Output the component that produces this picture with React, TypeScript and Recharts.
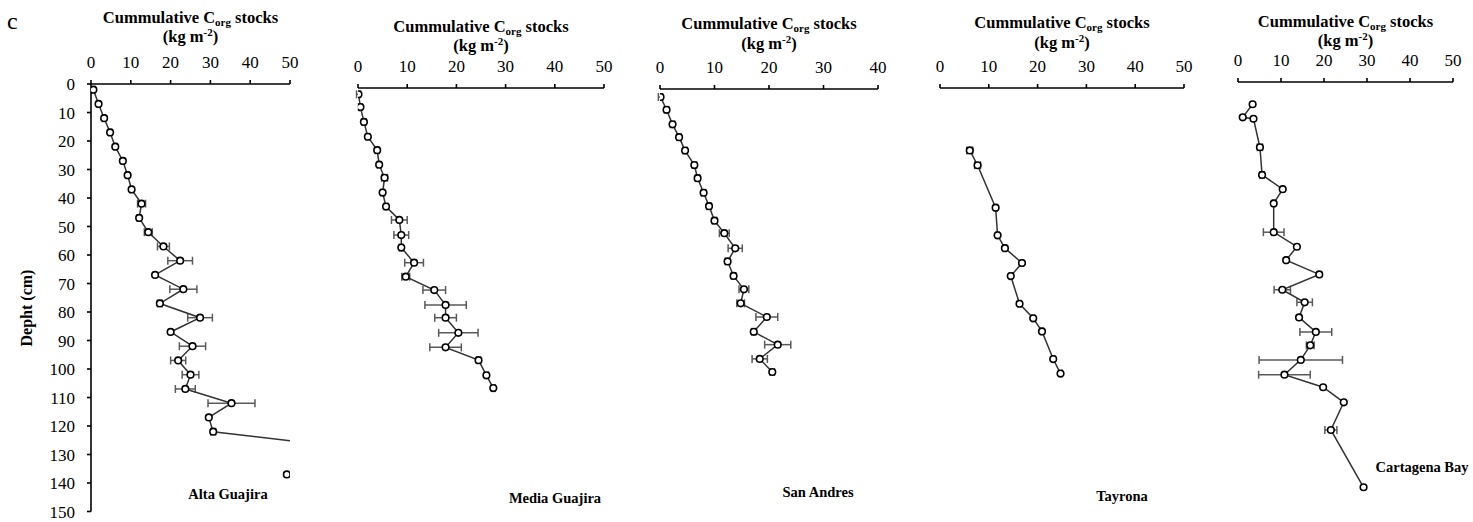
import React from "react";
import { ScatterChart, Scatter, XAxis, YAxis, ErrorBar } from "recharts";

// depth (cm) / cumulative Corg stock (kg m-2) / error
const altaDepth = [2, 7, 12, 17, 22, 27, 32, 37, 42, 47, 52, 57, 62, 67, 72, 77, 82, 87, 92, 97, 102, 107, 112, 117, 122, 127, 137];
const altaStock = [0.6, 1.9, 3.3, 4.8, 6.1, 8.0, 9.2, 10.2, 12.7, 12.1, 14.4, 18.2, 22.4, 16.1, 23.2, 17.3, 27.4, 20.0, 25.5, 21.9, 25.0, 23.7, 35.3, 29.6, 30.7, 61.0, 49.2];
const altaErr = [0.4, 0.4, 0.4, 0.4, 0.4, 0.4, 0.4, 0.4, 1.0, 0.5, 1.0, 1.5, 3.1, 0, 3.4, 0.6, 3.1, 0, 3.3, 1.9, 2.1, 2.5, 5.9, 0, 0.6, 0, 0];

const mediaDepth = [2.2, 6.7, 11.9, 17.1, 21.8, 26.9, 31.5, 36.7, 41.6, 46.3, 51.6, 56.0, 61.3, 66.2, 70.9, 76.1, 80.6, 85.9, 91.0, 95.5, 100.8, 105.3];
const mediaStock = [0.1, 0.5, 1.2, 2.0, 3.9, 4.3, 5.4, 5.0, 5.7, 8.4, 8.8, 8.8, 11.4, 9.7, 15.5, 17.8, 17.8, 20.4, 17.8, 24.5, 26.1, 27.5];
const mediaErr = [0.4, 0.4, 0.4, 0.4, 0.4, 0.4, 0.6, 0.4, 0.4, 1.6, 1.5, 0.4, 1.9, 0.8, 2.3, 4.2, 2.2, 4.0, 3.2, 0.4, 0.4, 0.4];

const sanDepth = [2.8, 7.3, 12.4, 16.9, 21.6, 26.7, 31.3, 36.4, 41.1, 46.2, 50.6, 55.9, 60.5, 65.6, 70.3, 75.2, 80.0, 85.2, 89.7, 94.7, 99.3];
const sanStock = [0.1, 1.2, 2.3, 3.5, 4.6, 6.3, 6.9, 8.0, 9.0, 10.0, 11.8, 13.8, 12.4, 13.5, 15.4, 14.8, 19.6, 17.2, 21.6, 18.3, 20.6];
const sanErr = [0.4, 0.4, 0.4, 0.4, 0.4, 0.4, 0.4, 0.4, 0.4, 0.4, 0.9, 1.3, 0.4, 0.4, 0.9, 0.7, 2.0, 0.4, 2.4, 1.4, 0.4];

const tayDepth = [21.9, 27.1, 42.0, 51.7, 56.2, 61.4, 66.0, 75.7, 80.8, 85.4, 95.1, 100.2];
const tayStock = [6.1, 7.7, 11.4, 11.8, 13.3, 16.8, 14.5, 16.3, 19.1, 20.9, 23.2, 24.7];
const tayErr = [0.6, 0.6, 0.3, 0.3, 0.3, 0.3, 0.3, 0.3, 0.3, 0.3, 0.3, 0.3];

const cartDepth = [7.8, 12.4, 12.9, 22.9, 32.6, 37.6, 42.6, 52.7, 57.8, 62.5, 67.5, 72.9, 77.3, 82.6, 87.7, 92.4, 97.5, 102.7, 107.1, 112.4, 122.1, 142.2];
const cartStock = [3.4, 1.1, 3.6, 5.1, 5.6, 10.4, 8.3, 8.3, 13.7, 11.2, 18.9, 10.3, 15.5, 14.2, 18.1, 16.8, 14.6, 10.8, 19.8, 24.6, 21.6, 29.2];
const cartErr = [0, 0, 0, 0.6, 0.5, 0, 0.3, 2.4, 0, 0.3, 0, 1.9, 1.8, 0, 3.7, 0.9, 9.7, 6.0, 0, 0, 1.4, 0];

const ticks50 = [0, 10, 20, 30, 40, 50];
const ticks40 = [0, 10, 20, 30, 40];
const depthTicks = [0, 10, 20, 30, 40, 50, 60, 70, 80, 90, 100, 110, 120, 130, 140, 150];

const FONT = "Liberation Serif, DejaVu Serif, Times New Roman, serif";
const PLOT_H = 427.5;
const X_AXIS_H = 30;
const BOTTOM = 10;

const zip = (d: number[], s: number[], e: number[]) =>
  d.map((depth, i) => ({ depth, stock: s[i], err: e[i] }));

const Dot = (props: any) => (
  <circle cx={props.cx} cy={props.cy} r={3.3} fill="#fff" stroke="#000" strokeWidth={1.6} />
);

type PanelProps = {
  data: { depth: number; stock: number; err: number }[];
  x0: number;
  x1: number;
  axisY: number;
  ticks: number[];
  showY?: boolean;
};

const Panel = ({ data, x0, x1, axisY, ticks, showY }: PanelProps) => {
  const yW = showY ? 50 : 0;
  const mL = 12;
  const mR = 12;
  const max = ticks[ticks.length - 1];
  return (
    <div style={{ position: "absolute", left: x0 - yW - mL, top: axisY - X_AXIS_H }}>
      <ScatterChart
        width={mL + yW + (x1 - x0) + mR}
        height={X_AXIS_H + PLOT_H + BOTTOM}
        margin={{ top: 0, right: mR, left: mL, bottom: BOTTOM }}
        style={{ fontFamily: FONT }}
      >
        <XAxis
          type="number"
          dataKey="stock"
          orientation="top"
          domain={[0, max]}
          ticks={ticks}
          interval={0}
          allowDataOverflow
          height={X_AXIS_H}
          tickSize={4}
          tickMargin={12}
          axisLine={{ stroke: "#000", strokeWidth: 1.6 }}
          tickLine={{ stroke: "#000", strokeWidth: 1.6 }}
          tick={{ fill: "#000", fontSize: 17, fontFamily: FONT }}
        />
        <YAxis
          type="number"
          dataKey="depth"
          domain={[0, 150]}
          reversed
          ticks={depthTicks}
          interval={0}
          allowDataOverflow
          hide={!showY}
          width={yW}
          tickSize={4}
          tickMargin={12}
          axisLine={{ stroke: "#000", strokeWidth: 1.6 }}
          tickLine={{ stroke: "#000", strokeWidth: 1.6 }}
          tick={{ fill: "#000", fontSize: 17, fontFamily: FONT }}
        />
        <Scatter
          data={data}
          line={{ stroke: "#333", strokeWidth: 1.5 }}
          shape={Dot}
          isAnimationActive={false}
        />
        <Scatter data={data} shape={() => <g />} isAnimationActive={false}>
          <ErrorBar dataKey="err" direction="x" width={4} stroke="#5a5a5a" strokeWidth={1.5} />
        </Scatter>
      </ScatterChart>
    </div>
  );
};

const panels = [
  { name: "Alta Guajira", data: zip(altaDepth, altaStock, altaErr), x0: 91, x1: 290, axisY: 84, ticks: ticks50, titleY: 22.5, nameX: 228, nameY: 499, showY: true },
  { name: "Media Guajira", data: zip(mediaDepth, mediaStock, mediaErr), x0: 358, x1: 604, axisY: 88, ticks: ticks50, titleY: 31.5, nameX: 555, nameY: 503 },
  { name: "San Andres", data: zip(sanDepth, sanStock, sanErr), x0: 660, x1: 878, axisY: 89, ticks: ticks40, titleY: 29, nameX: 818, nameY: 497 },
  { name: "Tayrona", data: zip(tayDepth, tayStock, tayErr), x0: 940, x1: 1184, axisY: 88, ticks: ticks50, titleY: 28, nameX: 1122, nameY: 501 },
  { name: "Cartagena Bay", data: zip(cartDepth, cartStock, cartErr), x0: 1238, x1: 1453, axisY: 82, ticks: ticks50, titleY: 26.7, nameX: 1422, nameY: 472 },
];

export default function App() {
  return (
    <div
      style={{ position: "absolute", left: 0, top: 0, width: 1473, height: 522, background: "#fff", fontFamily: FONT }}
    >
      {panels.map((p) => (
        <Panel key={p.name} data={p.data} x0={p.x0} x1={p.x1} axisY={p.axisY} ticks={p.ticks} showY={p.showY} />
      ))}
      <svg
        width={1473}
        height={522}
        style={{ position: "absolute", left: 0, top: 0, pointerEvents: "none", fontFamily: FONT }}
      >
        <text x={7} y={29} fontSize={24} fill="#000">c</text>
        <text
          transform="translate(32,308) rotate(-90)"
          textAnchor="middle"
          fontSize={16}
          fontWeight="bold"
          fill="#000"
        >
          Depht (cm)
        </text>
        {panels.map((p) => {
          const cx = (p.x0 + p.x1) / 2;
          return (
            <g key={p.name}>
              <text x={cx} y={p.titleY} textAnchor="middle" fontSize={16.5} fontWeight="bold" fill="#000">
                Cummulative C<tspan fontSize={11} dy={3}>org</tspan>
                <tspan dy={-3}> stocks</tspan>
              </text>
              <text x={cx} y={p.titleY + 19.5} textAnchor="middle" fontSize={16.5} fontWeight="bold" fill="#000">
                (kg m<tspan fontSize={11} dy={-6}>-2</tspan>
                <tspan dy={6}>)</tspan>
              </text>
              <text x={p.nameX} y={p.nameY} textAnchor="middle" fontSize={14.5} fontWeight="bold" fill="#000">
                {p.name}
              </text>
            </g>
          );
        })}
      </svg>
    </div>
  );
}
